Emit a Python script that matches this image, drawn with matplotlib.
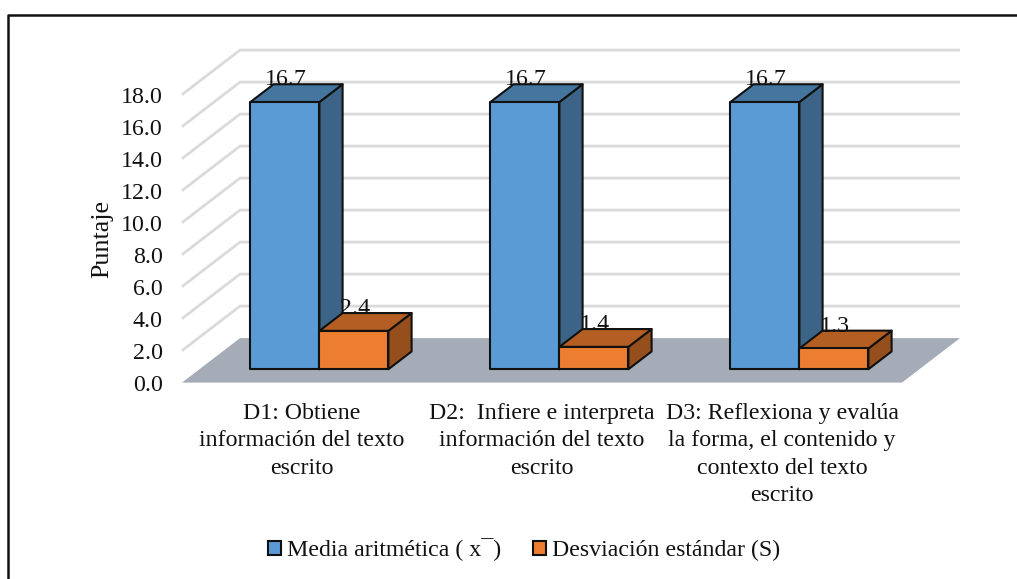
import matplotlib
matplotlib.use("Agg")
import matplotlib.pyplot as plt
from matplotlib.patches import Polygon, Rectangle
from matplotlib.lines import Line2D

plt.rcParams['font.family'] = ['Liberation Serif', 'DejaVu Serif']

categories = ["D1: Obtiene\ninformación del texto\nescrito",
              "D2:  Infiere e interpreta\ninformación del texto\nescrito",
              "D3: Reflexiona y evalúa\nla forma, el contenido y\ncontexto del texto\nescrito"]
media = [16.7, 16.7, 16.7]
desviacion = [2.4, 1.4, 1.3]
yticks = [0, 2, 4, 6, 8, 10, 12, 14, 16, 18]
ytick_labels = ["0.0", "2.0", "4.0", "6.0", "8.0", "10.0", "12.0", "14.0", "16.0", "18.0"]
series_names = ["Media aritmética ( x¯)", "Desviación estándar (S)"]

W, H = 1017, 579
fig = plt.figure(figsize=(W / 100, H / 100), dpi=100, facecolor="white")

L, R, B, T = 182, 902, 382.6, 94.6
ax = fig.add_axes([L / W, 1 - B / H, (R - L) / W, (B - T) / H])
ax.set_xlim(0, 3)
ax.set_ylim(0, 18)
ax.patch.set_visible(False)
for s in ax.spines.values():
    s.set_visible(False)

DX = 58 / 240
DY = 44.5 / 16
FRONT, BACK = 0.30, 0.70
BAR_W = 69 / 240
EDGE = "#111111"
FS = 17.2

def off(x, y, d):
    return (x + DX * d, y + DY * d)

ax.add_patch(Polygon([off(0, 0, 0), off(3, 0, 0), off(3, 0, 1), off(0, 0, 1)],
                     closed=True, fc="#a5acb8", ec="none", zorder=1, clip_on=False))
for v in yticks[1:]:
    xs = [off(0, v, 0)[0], off(0, v, 1)[0], off(3, v, 1)[0]]
    ys = [off(0, v, 0)[1], off(0, v, 1)[1], off(3, v, 1)[1]]
    ax.plot(xs, ys, color="#dadada", lw=2, zorder=2, clip_on=False,
            solid_joinstyle="miter", solid_capstyle="butt")

def box(x0, w, v, front, top, side, z):
    kw = dict(closed=True, ec=EDGE, lw=1.5, zorder=z, clip_on=False, joinstyle="round")
    a = off(x0, 0, FRONT); b = off(x0 + w, 0, FRONT)
    c = off(x0 + w, v, FRONT); d = off(x0, v, FRONT)
    e = off(x0 + w, 0, BACK); f = off(x0 + w, v, BACK); g = off(x0, v, BACK)
    ax.add_patch(Polygon([b, e, f, c], fc=side, **kw))
    ax.add_patch(Polygon([d, c, f, g], fc=top, **kw))
    ax.add_patch(Polygon([a, b, c, d], fc=front, **kw))

for i, (m, s) in enumerate(zip(media, desviacion)):
    c = i + 0.5
    box(c - BAR_W, BAR_W, m, "#5b9bd5", "#44769f", "#3b6487", 3)
    box(c, BAR_W, s, "#ed7d31", "#b35e22", "#954f1d", 4)
for i, (m, s) in enumerate(zip(media, desviacion)):
    c = i + 0.5
    for xc, v in ((c - BAR_W / 2, m), (c + BAR_W / 2, s)):
        x, y = off(xc, v, FRONT)
        ax.annotate(f"{v:.1f}", (x, y), xytext=(1, 16), textcoords="offset points",
                    ha="center", va="center", fontsize=FS, color="#111111", zorder=6,
                    annotation_clip=False)

ax.set_yticks(yticks)
ax.set_yticklabels(ytick_labels, fontsize=FS, color="#111111")
ax.set_xticks([0.5, 1.5, 2.5])
ax.set_xticklabels(categories, fontsize=FS, color="#111111", linespacing=1.4)
ax.tick_params(axis="both", length=0)
ax.tick_params(axis="y", pad=14)
ax.tick_params(axis="x", pad=14.5)
ax.set_ylabel("Puntaje", fontsize=FS + 1.5, color="#111111")
ax.yaxis.set_label_coords((113 - L) / (R - L), (B - 238.5) / (B - T))

handles = [Rectangle((0, 0), 1, 1, fc="#5b9bd5", ec=EDGE, lw=1.5),
           Rectangle((0, 0), 1, 1, fc="#ed7d31", ec=EDGE, lw=1.5)]
fig.legend(handles, series_names, loc="center", bbox_to_anchor=(524 / W, 1 - 550 / H),
           ncol=2, frameon=False, fontsize=FS, handlelength=0.55, handleheight=0.55,
           handletextpad=0.25, columnspacing=1.35, labelcolor="#111111")

fig.add_artist(Line2D([8 / W, 8 / W, 1], [0, 1 - 15 / H, 1 - 15 / H],
                      color="#111111", lw=1.8, transform=fig.transFigure))

fig.savefig("out.png", dpi=100)
